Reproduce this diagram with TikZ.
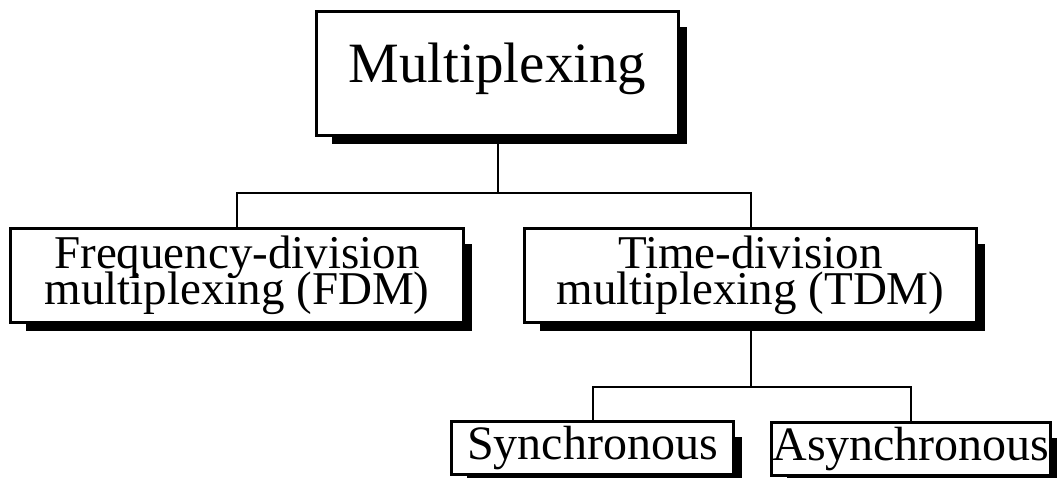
\documentclass[tikz,border=0pt]{standalone}
\usepackage{fontspec}
\setmainfont{Liberation Serif}
\newcommand\mytightlines{\lineskiplimit=-100pt\relax\lineskip=0pt\relax}
\begin{document}
\begin{tikzpicture}[x=1pt,y=-1pt,
  box/.style={draw, line width=3pt, fill=white, inner sep=0pt, align=center},
  link/.style={line width=2pt},
  bigfont/.style={font=\fontsize{57}{60}\selectfont},
  midfont/.style={font=\fontsize{47}{36}\selectfont\mytightlines},
  smallfont/.style={font=\fontsize{48}{50}\selectfont}]
\useasboundingbox (0,0) rectangle (1057,477);
\clip (0,0) rectangle (1057,477);

\node[box, bigfont, minimum width=362pt, minimum height=124pt, text height=38pt, text depth=21pt] (m) at (497.5,73.5) {Multiplexing};
\node[box, midfont, minimum width=453pt, minimum height=94pt] (f) at (237,275.5) {Frequency-division\\multiplexing (FDM)};
\node[box, midfont, minimum width=452pt, minimum height=94pt] (t) at (750.5,275.5) {Time-division\\multiplexing (TDM)};
\node[box, smallfont, minimum width=282pt, minimum height=53pt] (s) at (592.5,448) {Synchronous};
\node[box, smallfont, minimum width=279pt, minimum height=53pt] (a) at (911,449) {Asynchronous};

\foreach \n in {m,f,t,s,a}{
  \fill ([shift={(17,0)}]\n.south west) rectangle ([shift={(7,7)}]\n.south east);
  \fill ([shift={(0,17)}]\n.north east) rectangle ([shift={(7,7)}]\n.south east);
}

\coordinate (bus1) at (0,193);
\coordinate (bus2) at (0,387);
\draw[link] (m.south) -- (m.south |- bus1);
\draw[link] (f.north) |- (bus1 -| t.north) -- (t.north);
\draw[link] (t.south) -- (t.south |- bus2);
\draw[link] (s.north) |- (bus2 -| a.north) -- (a.north);
\end{tikzpicture}
\end{document}
